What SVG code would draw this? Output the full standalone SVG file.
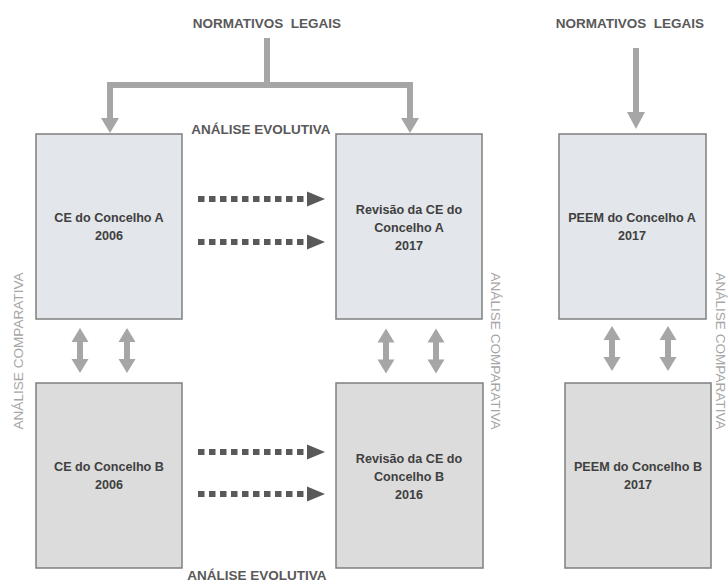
<svg xmlns="http://www.w3.org/2000/svg" xmlns:xlink="http://www.w3.org/1999/xlink" width="728" height="582" viewBox="0 0 728 582">
<style>
  .boxA { fill: #e3e6eb; stroke: #7f7f7f; stroke-width: 1.5; }
  .boxB { fill: #dcdcdc; stroke: #7f7f7f; stroke-width: 1.5; }
  .lbl { font-family: "Liberation Sans", Arial, sans-serif; font-weight: bold; font-size: 12.6px; fill: #404040; text-anchor: middle; }
  .head { font-family: "Liberation Sans", Arial, sans-serif; font-weight: bold; font-size: 13.5px; fill: #595959; text-anchor: middle; white-space: pre; }
  .vert { font-family: "Liberation Sans", Arial, sans-serif; font-size: 13.6px; fill: #a6a6a6; text-anchor: middle; }
  .feed { fill: none; stroke: #a6a6a6; stroke-width: 6; }
  .feedHead { fill: #a6a6a6; }
  .dbl { fill: #a6a6a6; }
  .dot { stroke: #595959; stroke-width: 6; stroke-dasharray: 6.5 4.5; fill: none; }
  .dotHead { fill: #595959; }
</style>
<defs>
  <path id="dblArrow" class="dbl" d="M0,-22.5 L8.5,-8.5 L3,-8.5 L3,8.5 L8.5,8.5 L0,22.5 L-8.5,8.5 L-3,8.5 L-3,-8.5 L-8.5,-8.5 Z"/>
  <g id="dotArrow">
    <line class="dot" x1="0" y1="0" x2="106" y2="0"/>
    <polygon class="dotHead" points="109,-7.5 127,0 109,7.5"/>
  </g>
</defs>

<!-- headings -->
<g id="headings">
  <text class="head" x="267" y="28">NORMATIVOS  LEGAIS</text>
  <text class="head" x="630" y="28">NORMATIVOS  LEGAIS</text>
  <text class="head" x="261" y="134">ANÁLISE EVOLUTIVA</text>
  <text class="head" x="257" y="580">ANÁLISE EVOLUTIVA</text>
  <text class="vert" transform="translate(23,351) rotate(-90)">ANÁLISE COMPARATIVA</text>
  <text class="vert" transform="translate(491,351) rotate(90)">ANÁLISE COMPARATIVA</text>
  <text class="vert" transform="translate(716,351) rotate(90)">ANÁLISE COMPARATIVA</text>
</g>

<!-- nodes -->
<g id="ce-a-2006">
  <rect class="boxA" x="36" y="134" width="146" height="185"/>
  <text class="lbl" x="109" y="222">CE do Concelho A</text>
  <text class="lbl" x="109" y="240">2006</text>
</g>
<g id="rev-ce-a-2017">
  <rect class="boxA" x="336" y="134" width="146" height="185"/>
  <text class="lbl" x="409" y="214">Revisão da CE do</text>
  <text class="lbl" x="409" y="232">Concelho A</text>
  <text class="lbl" x="409" y="250">2017</text>
</g>
<g id="peem-a-2017">
  <rect class="boxA" x="559" y="134" width="147" height="185"/>
  <text class="lbl" x="632" y="222">PEEM do Concelho A</text>
  <text class="lbl" x="632" y="240">2017</text>
</g>
<g id="ce-b-2006">
  <rect class="boxB" x="36" y="383" width="146" height="185"/>
  <text class="lbl" x="109" y="471">CE do Concelho B</text>
  <text class="lbl" x="109" y="489">2006</text>
</g>
<g id="rev-ce-b-2016">
  <rect class="boxB" x="336" y="383" width="147" height="185"/>
  <text class="lbl" x="409" y="463">Revisão da CE do</text>
  <text class="lbl" x="409" y="481">Concelho B</text>
  <text class="lbl" x="409" y="499">2016</text>
</g>
<g id="peem-b-2017">
  <rect class="boxB" x="565" y="383" width="146" height="185"/>
  <text class="lbl" x="638" y="471">PEEM do Concelho B</text>
  <text class="lbl" x="638" y="489">2017</text>
</g>

<!-- connectors -->
<g id="connectors">
  <path class="feed" d="M267,38 V85 M107,85 H413 M110,82 V119 M410,82 V119"/>
  <polygon class="feedHead" points="101,118 119,118 110,133"/>
  <polygon class="feedHead" points="401,118 419,118 410,133"/>
  <line class="feed" x1="636" y1="48" x2="636" y2="113"/>
  <polygon class="feedHead" points="627,112 645,112 636,129"/>
  <use xlink:href="#dotArrow" x="198" y="199"/>
  <use xlink:href="#dotArrow" x="198" y="242"/>
  <use xlink:href="#dotArrow" x="198" y="452"/>
  <use xlink:href="#dotArrow" x="198" y="494"/>
  <use xlink:href="#dblArrow" x="80" y="350.5"/>
  <use xlink:href="#dblArrow" x="127" y="350.5"/>
  <use xlink:href="#dblArrow" x="386" y="351"/>
  <use xlink:href="#dblArrow" x="436" y="351"/>
  <use xlink:href="#dblArrow" x="612" y="348.5"/>
  <use xlink:href="#dblArrow" x="668" y="348.5"/>
</g>
</svg>
